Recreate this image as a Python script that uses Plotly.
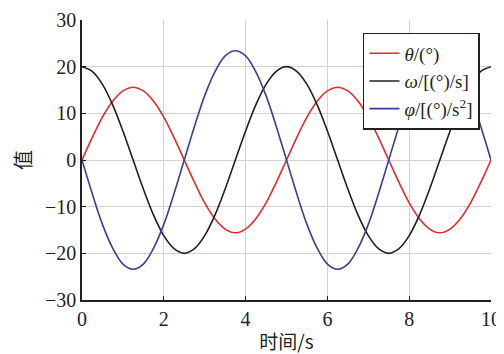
import plotly.graph_objects as go

t = [i * 0.25 for i in range(41)]

theta = [0, 4.8, 9.2, 12.6, 14.8, 15.6, 14.8, 12.6, 9.2, 4.8,
         0, -4.8, -9.2, -12.6, -14.8, -15.6, -14.8, -12.6, -9.2, -4.8,
         0, 4.8, 9.2, 12.6, 14.8, 15.6, 14.8, 12.6, 9.2, 4.8,
         0, -4.8, -9.2, -12.6, -14.8, -15.6, -14.8, -12.6, -9.2, -4.8, 0]
omega = [20, 19.0, 16.2, 11.8, 6.2, 0, -6.2, -11.8, -16.2, -19.0,
         -20, -19.0, -16.2, -11.8, -6.2, 0, 6.2, 11.8, 16.2, 19.0,
         20, 19.0, 16.2, 11.8, 6.2, 0, -6.2, -11.8, -16.2, -19.0,
         -20, -19.0, -16.2, -11.8, -6.2, 0, 6.2, 11.8, 16.2, 19.0, 20]
phi = [0, -7.2, -13.8, -18.9, -22.3, -23.4, -22.3, -18.9, -13.8, -7.2,
       0, 7.2, 13.8, 18.9, 22.3, 23.4, 22.3, 18.9, 13.8, 7.2,
       0, -7.2, -13.8, -18.9, -22.3, -23.4, -22.3, -18.9, -13.8, -7.2,
       0, 7.2, 13.8, 18.9, 22.3, 23.4, 22.3, 18.9, 13.8, 7.2, 0]

names = ["<i>θ</i>/(°)", "<i>ω</i>/[(°)/s]", "<i>φ</i>/[(°)/s<sup>2</sup>]"]
colors = ["#e8282b", "#231f20", "#3a3f94"]
x_ticks = [0, 2, 4, 6, 8, 10]
y_ticks = [-30, -20, -10, 0, 10, 20, 30]

SERIF = "Liberation Serif, serif"
CJK = "Noto Sans CJK SC"

fig = go.Figure()
for ys, nm, c in zip([theta, omega, phi], names, colors):
    fig.add_trace(go.Scatter(x=t, y=ys, mode="lines", name=nm,
                             line=dict(color=c, width=1.6, shape="spline", smoothing=1.0)))

# the page body adds an 8px offset, so the figure is 8px smaller and margins shifted
fig.update_layout(
    width=496, height=346,
    margin=dict(l=74, r=13, t=12, b=54, autoexpand=False),
    paper_bgcolor="white", plot_bgcolor="white",
    font=dict(family=SERIF, size=20, color="#231f20"),
    showlegend=True,
    legend=dict(x=0.973, y=0.954, xanchor="right", yanchor="top",
                bgcolor="white", bordercolor="#231f20", borderwidth=1.5,
                font=dict(family=SERIF, size=19, color="#231f20"),
                tracegroupgap=0, itemwidth=30),
)
fig.update_xaxes(range=[0, 10], tickvals=x_ticks, ticks="inside", ticklen=4,
                 tickcolor="#231f20", showline=True, linecolor="#231f20", linewidth=1.5,
                 showgrid=True, gridcolor="#d8cfcf", gridwidth=1, zeroline=False,
                 automargin=False, tickfont=dict(family=SERIF, size=20),
                 title=dict(text="时间/s", standoff=9,
                            font=dict(family=CJK, size=19)))
fig.update_yaxes(range=[-30, 30], tickvals=y_ticks, ticks="inside", ticklen=4,
                 tickcolor="#231f20", showline=True, linecolor="#231f20", linewidth=1.5,
                 showgrid=True, gridcolor="#d8cfcf", gridwidth=1, zeroline=False,
                 automargin=False, tickformat="d", tickfont=dict(family=SERIF, size=20),
                 title=dict(text="值", standoff=12,
                            font=dict(family=CJK, size=20)))

fig.write_html("out.html")
